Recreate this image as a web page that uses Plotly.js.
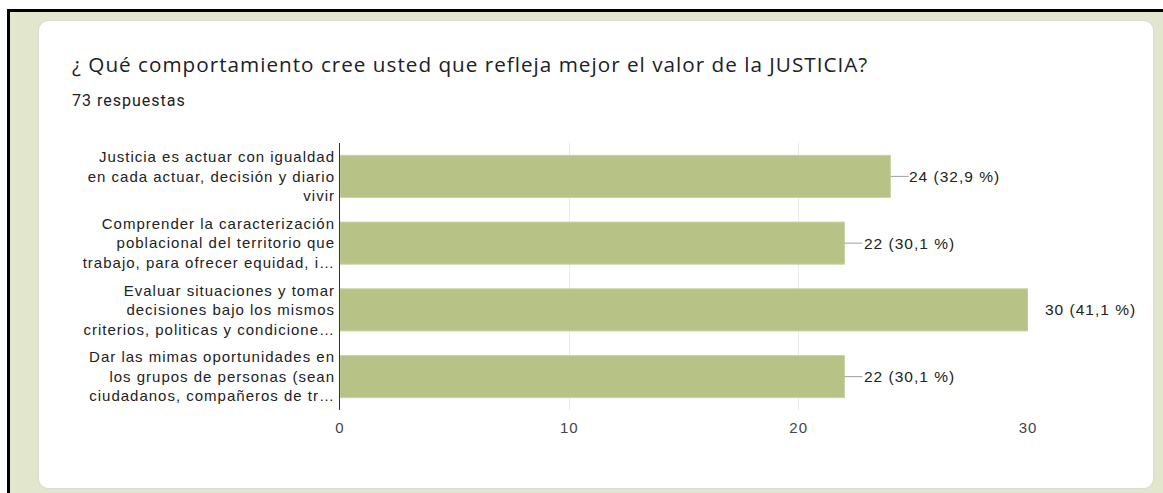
<!DOCTYPE html>
<html>
<head>
<meta charset="utf-8">
<script src="https://cdn.plot.ly/plotly-3.0.1.min.js"></script>
<style>
  html, body { margin:0; padding:0; width:1163px; height:493px; overflow:hidden; background:#ffffff; }
  #frame { position:absolute; left:7px; top:9px; width:1156px; height:484px; background:#e1e6cd; border-left:3px solid #000; border-top:3px solid #000; box-sizing:border-box; }
  #card { position:absolute; left:39px; top:21px; width:1114px; height:467px; background:#fff; border-radius:9px; box-shadow:0 0 1px 1px #d9dcd0; }
  #chart { position:absolute; left:0; top:0; width:1163px; height:493px; }
  svg text { letter-spacing: 1px; }
</style>
</head>
<body>
<div id="frame"></div>
<div id="card"></div>
<div id="chart"></div>
<script>
const titleText = "¿ Qué comportamiento cree usted que refleja mejor el valor de la JUSTICIA?";
const subtitleText = "73 respuestas";
const categories = [
  "Justicia es actuar con igualdad<br>en cada actuar, decisión y diario<br>vivir",
  "Comprender la caracterización<br>poblacional del territorio que<br>trabajo, para ofrecer equidad, i…",
  "Evaluar situaciones y tomar<br>decisiones bajo los mismos<br>criterios, politicas y condicione…",
  "Dar las mimas oportunidades en<br>los grupos de personas (sean<br>ciudadanos, compañeros de tr…"
];
const counts = [24, 22, 30, 22];
const percentLabels = ["32,9 %", "30,1 %", "41,1 %", "30,1 %"];
const xTicks = [0, 10, 20, 30];
const xMax = 30;

const labelFont = 'Liberation Sans, Arial, sans-serif';

const trace = {
  type: 'bar',
  orientation: 'h',
  y: categories,
  x: counts,
  marker: { color: '#b6c286', line: { color: '#c9d3a3', width: 1 } },
  hoverinfo: 'none'
};

const annotations = counts.map((v, i) => {
  const atMax = v >= xMax;
  return {
    x: v, y: categories[i], xref: 'x', yref: 'y',
    text: v + ' (' + percentLabels[i] + ')',
    xanchor: 'left', yanchor: 'middle',
    showarrow: !atMax,
    arrowhead: 0, arrowwidth: 1, arrowcolor: '#9e9e9e', standoff: 0,
    ax: 18, ay: 0,
    xshift: atMax ? 16 : 0,
    font: { family: labelFont, size: 15.5, color: '#222222' },
    borderpad: 0
  };
});

annotations.push({
  xref: 'paper', yref: 'paper',
  x: -270/688, y: 1 + 43/267,
  xanchor: 'left', yanchor: 'middle',
  text: subtitleText, showarrow: false,
  font: { family: 'Roboto, sans-serif', size: 16, color: '#202124' }
});

const layout = {
  width: 1163, height: 493,
  paper_bgcolor: 'rgba(0,0,0,0)', plot_bgcolor: 'rgba(0,0,0,0)',
  margin: { l: 340, r: 135, t: 143, b: 83, pad: 0 },
  title: {
    text: titleText,
    xref: 'container', yref: 'container',
    x: 72/1163, xanchor: 'left',
    y: 1 - 65/493, yanchor: 'middle',
    font: { family: 'Open Sans, sans-serif', size: 20.7, color: '#202124' }
  },
  showlegend: false,
  bargap: 0.37,
  xaxis: {
    range: [0, xMax], tickvals: xTicks, ticktext: xTicks.map(String),
    showgrid: true, gridcolor: '#ebebeb', gridwidth: 1,
    zeroline: false, showline: false, ticks: '', ticklabelstandoff: 7,
    tickfont: { family: labelFont, size: 15, color: '#444444' },
    fixedrange: true
  },
  yaxis: {
    autorange: 'reversed',
    showgrid: false, zeroline: false,
    showline: true, linecolor: '#333333', linewidth: 1,
    ticks: '', ticklabelstandoff: 1,
    tickfont: { family: labelFont, size: 15, color: '#222222' },
    fixedrange: true
  },
  annotations: annotations
};

Plotly.newPlot('chart', [trace], layout, { displayModeBar: false, staticPlot: true });
</script>
</body>
</html>
